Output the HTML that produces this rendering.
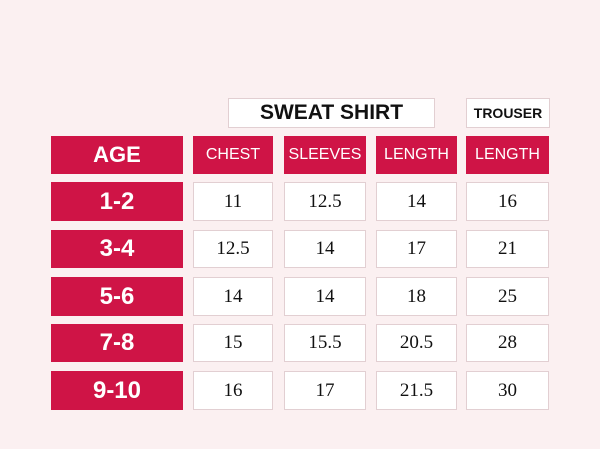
<!DOCTYPE html><html><head><style>
body{margin:0;width:600px;height:449px;background:#fbf0f1;position:relative;overflow:hidden}
div{position:absolute;box-sizing:border-box;display:flex;align-items:center;justify-content:center}
.r{background:#cf1446;color:#fff;font-family:"Liberation Sans",sans-serif}
.a{font-weight:bold;font-size:24px}
.h{font-size:16px}
.w{background:#fff;border:1.5px solid #e2cfd2;font-family:"Liberation Serif",serif;font-size:19px;color:#111}
.t{background:#fff;border:1.5px solid #e2cfd2;font-family:"Liberation Sans",sans-serif;font-weight:bold;color:#111}
</style></head><body>
<div class="t" style="left:228px;top:98px;width:207px;height:30px;font-size:21px">SWEAT SHIRT</div>
<div class="t" style="left:466px;top:98px;width:84px;height:30px;font-size:14px">TROUSER</div>
<div class="r a" style="left:51px;top:136px;width:132px;height:38px;font-size:22px">AGE</div>
<div class="r h" style="left:193px;top:136px;width:80px;height:38px">CHEST</div>
<div class="r h" style="left:284px;top:136px;width:82px;height:38px">SLEEVES</div>
<div class="r h" style="left:376px;top:136px;width:81px;height:38px">LENGTH</div>
<div class="r h" style="left:466px;top:136px;width:83px;height:38px">LENGTH</div>

<div class="r a" style="left:51px;top:182px;width:132px;height:39px">1-2</div>
<div class="w" style="left:193px;top:182px;width:80px;height:39px">11</div>
<div class="w" style="left:284px;top:182px;width:82px;height:39px">12.5</div>
<div class="w" style="left:376px;top:182px;width:81px;height:39px">14</div>
<div class="w" style="left:466px;top:182px;width:83px;height:39px">16</div>

<div class="r a" style="left:51px;top:230px;width:132px;height:38px">3-4</div>
<div class="w" style="left:193px;top:230px;width:80px;height:38px">12.5</div>
<div class="w" style="left:284px;top:230px;width:82px;height:38px">14</div>
<div class="w" style="left:376px;top:230px;width:81px;height:38px">17</div>
<div class="w" style="left:466px;top:230px;width:83px;height:38px">21</div>

<div class="r a" style="left:51px;top:277px;width:132px;height:39px">5-6</div>
<div class="w" style="left:193px;top:277px;width:80px;height:39px">14</div>
<div class="w" style="left:284px;top:277px;width:82px;height:39px">14</div>
<div class="w" style="left:376px;top:277px;width:81px;height:39px">18</div>
<div class="w" style="left:466px;top:277px;width:83px;height:39px">25</div>

<div class="r a" style="left:51px;top:324px;width:132px;height:38px">7-8</div>
<div class="w" style="left:193px;top:324px;width:80px;height:38px">15</div>
<div class="w" style="left:284px;top:324px;width:82px;height:38px">15.5</div>
<div class="w" style="left:376px;top:324px;width:81px;height:38px">20.5</div>
<div class="w" style="left:466px;top:324px;width:83px;height:38px">28</div>

<div class="r a" style="left:51px;top:371px;width:132px;height:39px">9-10</div>
<div class="w" style="left:193px;top:371px;width:80px;height:39px">16</div>
<div class="w" style="left:284px;top:371px;width:82px;height:39px">17</div>
<div class="w" style="left:376px;top:371px;width:81px;height:39px">21.5</div>
<div class="w" style="left:466px;top:371px;width:83px;height:39px">30</div>
</body></html>
